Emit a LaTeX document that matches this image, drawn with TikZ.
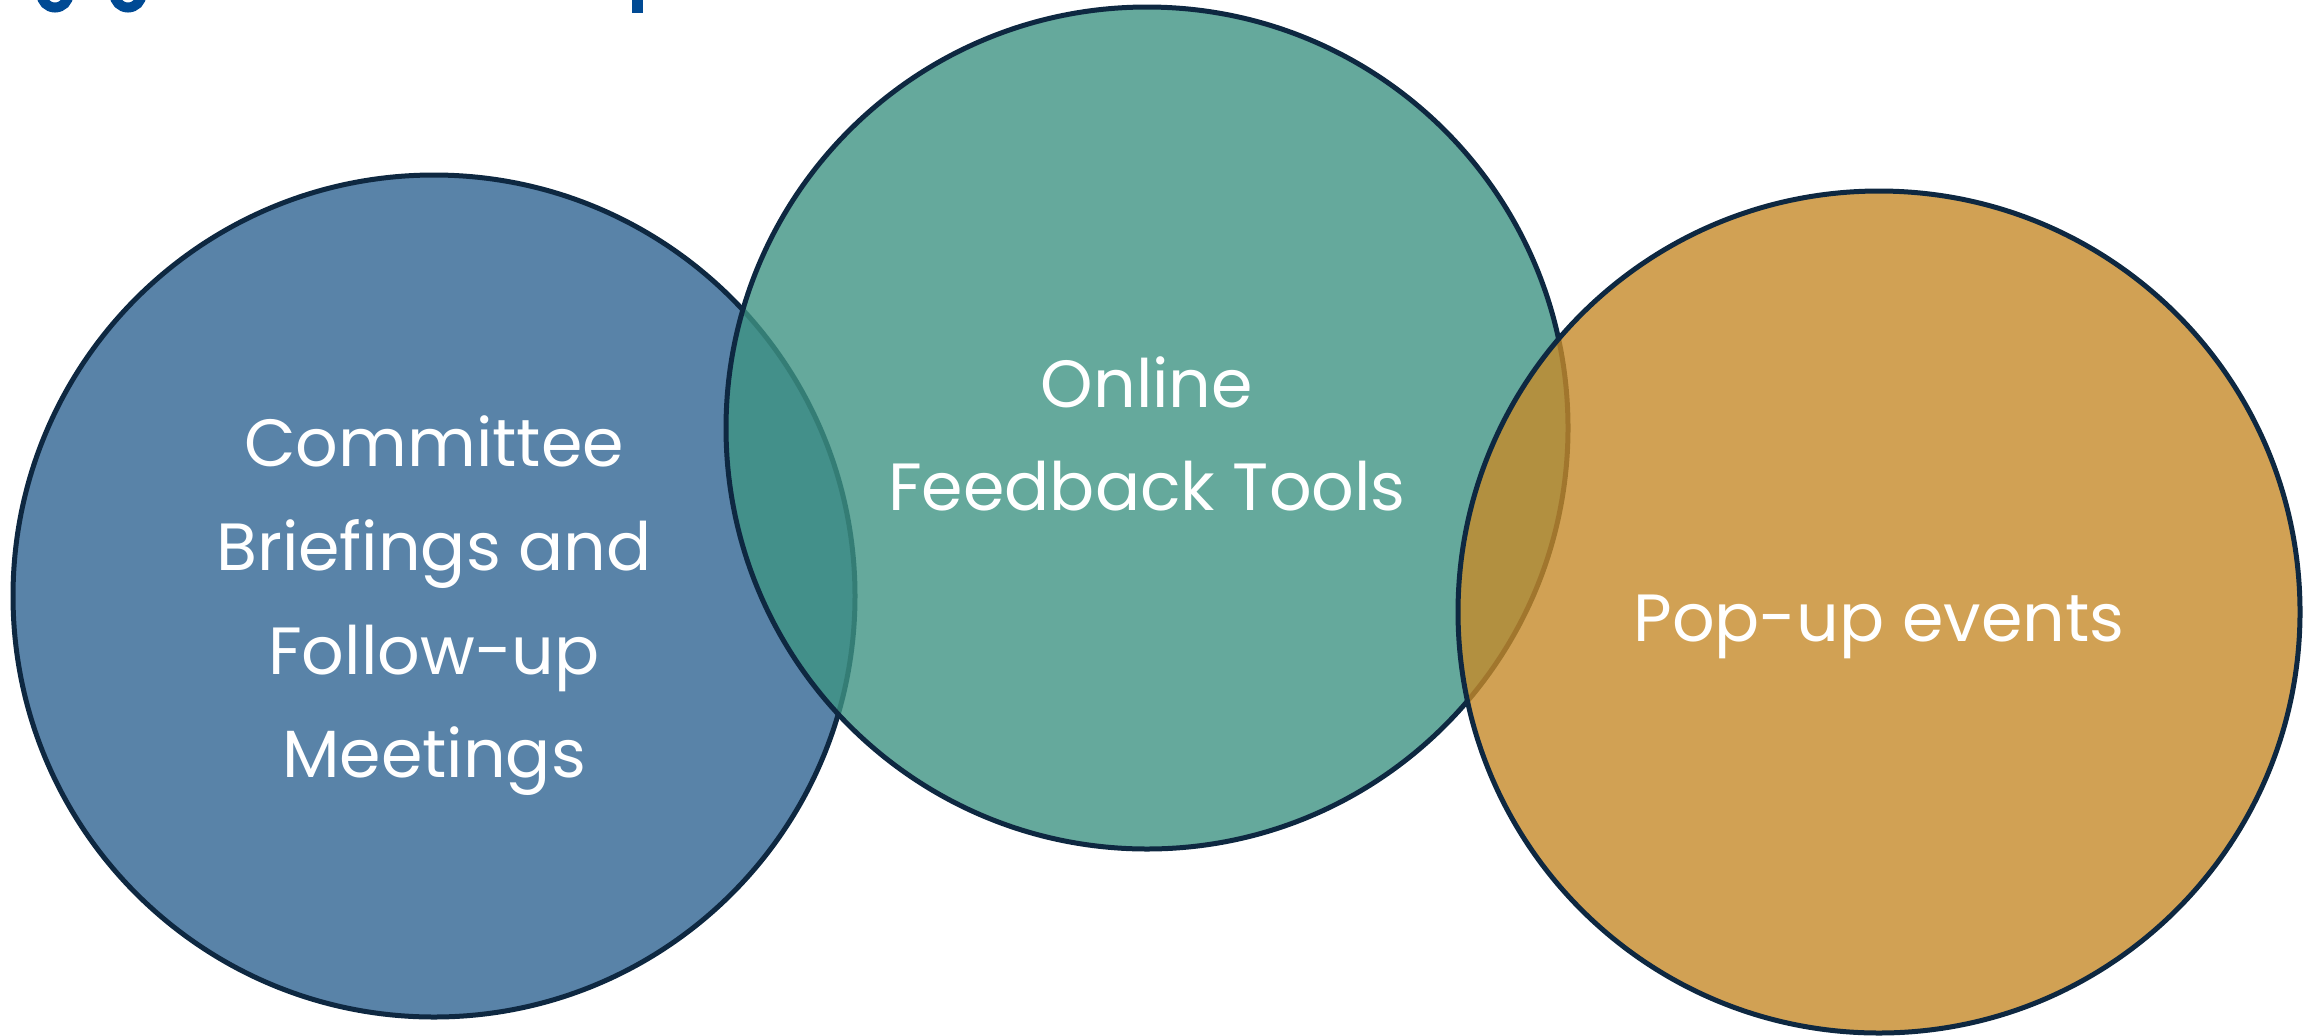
\documentclass[tikz,border=0pt]{standalone}
\usepackage{fontspec}
\setmainfont{Poppins}
\definecolor{briefblue}{RGB}{48,100,146}
\definecolor{onlineteal}{RGB}{62,147,131}
\definecolor{popgold}{RGB}{198,138,41}
\definecolor{rimnavy}{RGB}{14,40,65}
\definecolor{titleblue}{RGB}{0,74,148}
\tikzset{
	venn/.style={circle, draw=rimnavy, line width=0.5mm, minimum size=84.2mm,
		fill opacity=0.8, inner sep=0pt},
	venntext/.style={text=white, align=center, inner sep=0pt,
		font=\fontsize{19pt}{29.5pt}\selectfont},
}
\begin{document}
\begin{tikzpicture}[x=0.1mm, y=-0.1mm]
	\useasboundingbox (0,0) rectangle (2320,1035);
	\begin{scope}
		\clip (0,0) rectangle (2320,1035);
		% cut-off title, only the descenders show
		\draw[titleblue, line width=1mm] (55,-6) circle[radius=1.35mm];
		\draw[titleblue, line width=1mm] (128,-6) circle[radius=1.35mm];
		\fill[titleblue] (632,-10) rectangle (643,13);
	\end{scope}
	\node[venn, fill=briefblue] (brief) at (434,596) {};
	\node[venn, fill=onlineteal] (online) at (1147,428) {};
	\node[venn, fill=popgold] (popup) at (1879,612) {};
	\node[venntext] (brieftext) at ([yshift=-1mm]brief.center) {Committee\\Briefings and\\Follow-up\\Meetings};
	\node[venntext] (onlinetext) at ([yshift=-0.6mm]online.center) {Online\\Feedback Tools};
	\node[venntext] (popuptext) at ([yshift=-1.5mm]popup.center) {Pop-up events};
\end{tikzpicture}
\end{document}
